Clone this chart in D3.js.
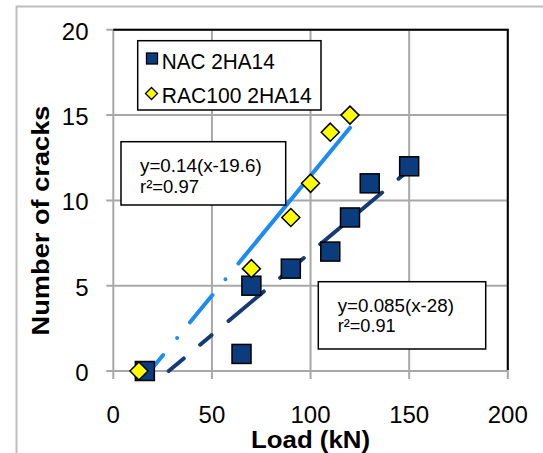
<!DOCTYPE html>
<html>
<head>
<meta charset="utf-8">
<script src="https://cdn.jsdelivr.net/npm/d3@7/dist/d3.min.js"></script>
<style>
  html, body { margin: 0; padding: 0; background: #fff; }
  svg { display: block; }
  text { font-family: "Liberation Sans", Arial, sans-serif; fill: #000; }
</style>
</head>
<body>
<div id="chart"></div>
<script>
// ---- data ----
const nacLoad   = [16, 65, 70, 90, 110, 120, 130, 150];
const nacCracks = [0, 1, 5, 6, 7, 9, 11, 12];
const racLoad   = [13, 70, 90, 100, 110, 120];
const racCracks = [0, 6, 9, 11, 14, 15];
const racTrendX = [18.6, 120];
const racTrendY = [0, 14.26];
const nacTrendX = [28.1, 150];
const nacTrendY = [0, 11.79];
const xTicks = [0, 50, 100, 150, 200];
const yTicks = [0, 5, 10, 15, 20];
const legendLabels = ["NAC 2HA14", "RAC100 2HA14"];
const racEquation = ["y=0.14(x-19.6)", "r²=0.97"];
const nacEquation = ["y=0.085(x-28)", "r²=0.91"];
const xTitle = "Load (kN)";
const yTitle = "Number of cracks";

// ---- layout ----
const W = 543, H = 453;
const NAVY = "#0b3c7d", YEL = "#ffff00", LBLUE = "#1c8cf0", DBLUE = "#163a78", GRID = "#a8a8a8";

const svg = d3.select("#chart").append("svg").attr("width", W).attr("height", H);

const x = d3.scaleLinear().domain([0, 200]).range([113.3, 507.8]);
const y = d3.scaleLinear().domain([0, 20]).range([371, 29.8]);

// outer chart border
svg.append("rect").attr("x", 16.5).attr("y", 6.5).attr("width", 700).attr("height", 700)
  .attr("fill", "none").attr("stroke", "#bdbdbd").attr("stroke-width", 2);

// gridlines (with outward ticks)
const g = svg.append("g");
g.selectAll("line.vg").data(xTicks).join("line").attr("class", "vg")
  .attr("x1", d => x(d)).attr("x2", d => x(d))
  .attr("y1", y(20)).attr("y2", y(0) + 8)
  .attr("stroke", GRID).attr("stroke-width", 2);
g.selectAll("line.hg").data(yTicks).join("line").attr("class", "hg")
  .attr("x1", x(0) - 7).attr("x2", x(200))
  .attr("y1", d => y(d)).attr("y2", d => y(d))
  .attr("stroke", GRID).attr("stroke-width", 2);

// top and right border in black
g.append("line").attr("x1", x(0)).attr("x2", x(200) + 1).attr("y1", y(20)).attr("y2", y(20))
  .attr("stroke", "#000").attr("stroke-width", 2);
g.append("line").attr("x1", x(200)).attr("x2", x(200)).attr("y1", y(20)).attr("y2", y(0) - 1)
  .attr("stroke", "#000").attr("stroke-width", 2);

// tick labels
svg.selectAll("text.yt").data(yTicks).join("text").attr("class", "yt")
  .attr("x", 88.5).attr("y", d => y(d) + 9.8)
  .attr("text-anchor", "end").attr("font-size", 24).text(d => d);
svg.selectAll("text.xt").data(xTicks).join("text").attr("class", "xt")
  .attr("x", d => x(d)).attr("y", 423)
  .attr("text-anchor", "middle").attr("font-size", 24).text(d => d);

// axis titles
svg.append("text").attr("x", (x(0) + x(200)) / 2).attr("y", 447.5)
  .attr("text-anchor", "middle").attr("font-size", 24.5).attr("font-weight", "bold")
  .attr("textLength", 119).attr("lengthAdjust", "spacingAndGlyphs").text(xTitle);
svg.append("text").attr("transform", "translate(48.5,220.5) rotate(-90)")
  .attr("text-anchor", "middle").attr("font-size", 24.5).attr("font-weight", "bold")
  .attr("textLength", 230).attr("lengthAdjust", "spacingAndGlyphs").text(yTitle);

// trend lines
const line = d3.line().x(d => x(d[0])).y(d => y(d[1]));
svg.append("path").datum(d3.zip(nacTrendX, nacTrendY)).attr("d", line)
  .attr("fill", "none").attr("stroke", DBLUE).attr("stroke-width", 4)
  .attr("stroke-linecap", "round")
  .attr("stroke-dasharray", "19.6,21.4,14.8,22.2,46,21.3,30.8,21.4,28.5,21,31.2,21.5,1000");
svg.append("path").datum(d3.zip(racTrendX, racTrendY)).attr("d", line)
  .attr("fill", "none").attr("stroke", LBLUE).attr("stroke-width", 4)
  .attr("stroke-linecap", "round")
  .attr("stroke-dasharray", "20.7,22,0,20.3,35.3,20.5,0,20.4,1000");

// markers
const S = 19;
svg.selectAll("rect.nac").data(d3.zip(nacLoad, nacCracks)).join("rect").attr("class", "nac")
  .attr("x", d => x(d[0]) - S / 2).attr("y", d => y(d[1]) - S / 2)
  .attr("width", S).attr("height", S)
  .attr("fill", NAVY).attr("stroke", "#000").attr("stroke-width", 1.5);
const D = 9;
const diamond = (cx, cy, r) => `M${cx},${cy - r}L${cx + r},${cy}L${cx},${cy + r}L${cx - r},${cy}Z`;
svg.selectAll("path.rac").data(d3.zip(racLoad, racCracks)).join("path").attr("class", "rac")
  .attr("d", d => diamond(x(d[0]), y(d[1]), D))
  .attr("fill", YEL).attr("stroke", "#000").attr("stroke-width", 1.5);

// legend
svg.append("rect").attr("x", 137.7).attr("y", 40.7).attr("width", 183.3).attr("height", 69.3)
  .attr("fill", "#fff").attr("stroke", "#000").attr("stroke-width", 1.5);
svg.append("rect").attr("x", 146.5).attr("y", 53).attr("width", 11).attr("height", 11)
  .attr("fill", NAVY).attr("stroke", "#000").attr("stroke-width", 1.3);
svg.append("path").attr("d", diamond(151.5, 93.5, 6))
  .attr("fill", YEL).attr("stroke", "#000").attr("stroke-width", 1.3);
svg.append("text").attr("x", 161.7).attr("y", 69.3).attr("font-size", 22)
  .attr("textLength", 113).attr("lengthAdjust", "spacingAndGlyphs").text(legendLabels[0]);
svg.append("text").attr("x", 161.7).attr("y", 102.7).attr("font-size", 22)
  .attr("textLength", 150).attr("lengthAdjust", "spacingAndGlyphs").text(legendLabels[1]);

// equation boxes
function eqBox(bx, by, bw, bh, tx, lines, base, lens, fs) {
  svg.append("rect").attr("x", bx).attr("y", by).attr("width", bw).attr("height", bh)
    .attr("fill", "#fff").attr("stroke", "#000").attr("stroke-width", 1.5);
  lines.forEach((t, i) => {
    svg.append("text").attr("x", tx).attr("y", base[i]).attr("font-size", fs)
      .attr("fill", "#222")
      .attr("textLength", lens[i]).attr("lengthAdjust", "spacingAndGlyphs").text(t);
  });
}
eqBox(121, 141.7, 164.7, 63.3, 140, racEquation, [172, 192.7], [121.7, 59], 18.5);
eqBox(318.3, 281.7, 167.4, 67.3, 337.7, nacEquation, [312.3, 332], [116.3, 58], 17.5);
</script>
</body>
</html>
